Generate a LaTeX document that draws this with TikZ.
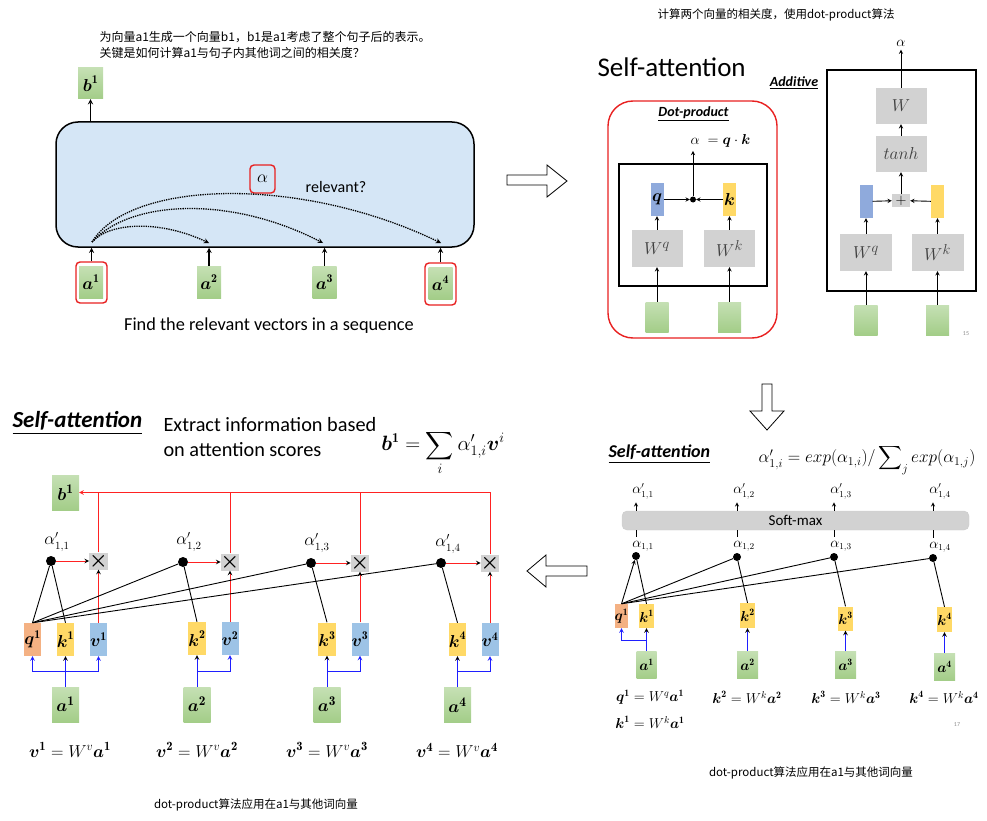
\documentclass[tikz,border=0pt]{standalone}
\usepackage{amsmath}
\usepackage{amssymb}
\usepackage{fontspec}
\usepackage{tikz}
\usetikzlibrary{positioning, calc}
\newfontfamily\calibri{Carlito}
\newfontfamily\cjk{Noto Sans CJK SC}
\definecolor{greentop}{HTML}{C5E0B4}
\definecolor{greenbot}{HTML}{A3CD88}
\definecolor{vblue}{HTML}{9DC3E6}
\definecolor{qblue}{HTML}{8FAADC}
\definecolor{kyellow}{HTML}{FFD966}
\definecolor{qsalmon}{HTML}{F4B183}
\definecolor{wgray}{HTML}{D2D2D2}
\definecolor{encblue}{HTML}{D5E6F6}
\definecolor{framered}{HTML}{E82020}
\definecolor{linered}{HTML}{FF2222}
\definecolor{lineblue}{HTML}{1F1FFF}
\begin{document}
\begin{tikzpicture}[x=1pt, y=-1pt, >=stealth,
  green box/.style={rectangle, top color=greentop, bottom color=greenbot, inner sep=0pt},
  blue box/.style={rectangle, fill=vblue, inner sep=0pt},
  q box/.style={rectangle, fill=qblue, inner sep=0pt},
  yellow box/.style={rectangle, fill=kyellow, inner sep=0pt},
  salmon box/.style={rectangle, fill=qsalmon, inner sep=0pt},
  gray box/.style={rectangle, fill=wgray, inner sep=0pt, text=black!75, font=\fontsize{19}{19}\selectfont},
  red frame/.style={rectangle, draw=framered, line width=1.4pt, rounded corners=4pt, inner sep=0pt},
  black frame/.style={rectangle, draw=black, line width=1.5pt, inner sep=0pt},
  dot/.style={circle, fill=black, inner sep=0pt},
  heading/.style={font=\calibri\bfseries\itshape},
  cjk note/.style={font=\cjk\fontsize{11.5}{16}\selectfont},
  page num/.style={font=\calibri\fontsize{6}{6}\selectfont, text=black!45},
  hollow arrow/.style={draw=black, line width=0.8pt, fill=white},
  link/.style={draw, line width=0.9pt},
  link arrow/.style={->, draw, line width=0.9pt},
  red link/.style={->, draw=linered, line width=1pt},
  blue link/.style={->, draw=lineblue, line width=1pt},
  dot link/.style={->, densely dotted, line width=1.3pt}]

\useasboundingbox (0,0) rectangle (987,821);

% ---------------- top left: relevant vectors
\node[cjk note, font=\cjk\fontsize{12}{16}\selectfont, anchor=west, align=left] (tnote) at (96,45) {为向量a1生成一个向量b1，b1是a1考虑了整个句子后的表示。\\关键是如何计算a1与句子内其他词之间的相关度？};

\node[rectangle, draw, line width=1.5pt, rounded corners=22pt, fill=encblue,
  minimum width=418pt, minimum height=125pt] (enc) at (265,184.5) {};

\node[green box, minimum width=25pt, minimum height=31pt, font=\fontsize{17}{17}\selectfont] (tb1) at (90.5,83.5) {$\boldsymbol{b}^{\mathbf{1}}$};
\node[green box, minimum width=24pt, minimum height=32pt, font=\fontsize{17}{17}\selectfont] (ta1) at (91,282) {$\boldsymbol{a}^{\mathbf{1}}$};
\node[green box, minimum width=24pt, minimum height=32pt, font=\fontsize{17}{17}\selectfont] (ta2) at (209,282) {$\boldsymbol{a}^{\mathbf{2}}$};
\node[green box, minimum width=24pt, minimum height=32pt, font=\fontsize{17}{17}\selectfont] (ta3) at (324.5,282) {$\boldsymbol{a}^{\mathbf{3}}$};
\node[green box, minimum width=24pt, minimum height=32pt, font=\fontsize{17}{17}\selectfont] (ta4) at (440.5,283) {$\boldsymbol{a}^{\mathbf{4}}$};
\node[red frame, minimum width=31pt, minimum height=41pt] (fa1) at (91.5,282.5) {};
\node[red frame, minimum width=31pt, minimum height=42pt] (fa4) at (440.5,284) {};

\draw[link arrow, line width=1.3pt] (enc.north -| tb1) -- (tb1.south);
\draw[link arrow, line width=1.3pt] (fa1.north) -- (fa1.north |- enc.south);
\draw[link arrow, line width=1.3pt] (ta2.north) -- (ta2.north |- enc.south);
\draw[link arrow, line width=1.3pt] (ta3.north) -- (ta3.north |- enc.south);
\draw[link arrow, line width=1.3pt] (fa4.north) -- (fa4.north |- enc.south);

\node[red frame, minimum width=25pt, minimum height=28pt, font=\fontsize{18}{18}\selectfont] (talpha) at (262.5,179) {$\alpha$};
\node[font=\calibri\fontsize{16}{16}\selectfont] (trel) at (336,187) {relevant?};

\coordinate (ts) at (92,242);
\coordinate (te2) at (209,243);
\coordinate (te3) at (323,243);
\coordinate (te4) at (441,243);
\draw[dot link] (ts) .. controls (110,222) and (160,220) .. (te2);
\draw[dot link] (ts) .. controls (130,200) and (230,195) .. (te3);
\draw[dot link] (ts) .. controls (130,180) and (300,175) .. (te4);

\node[font=\calibri\fontsize{18.3}{18.3}\selectfont] (tfind) at (269,326) {Find the relevant vectors in a sequence};

% arrow to the right
\draw[hollow arrow] (507,175) -- (547,175) -- (547,165) -- (567,181) -- (547,197) -- (547,185) -- (507,185) -- cycle;

% ---------------- top right: dot-product and additive
\node[cjk note] (rnote1) at (776,15) {计算两个向量的相关度，使用dot-product算法};
\node[anchor=west, font=\calibri\fontsize{27}{27}\selectfont] (ttitle) at (594,67) {Self-attention};

\node[red frame, rounded corners=25pt, minimum width=169pt, minimum height=237pt] (dframe) at (692.5,219.5) {};
\node[heading, font=\calibri\bfseries\itshape\fontsize{14}{14}\selectfont] (tdot) at (693.5,114) {\underline{Dot-product}};
\node[anchor=west, font=\fontsize{15}{15}\selectfont] (dal) at (687,141) {$\alpha\;=\boldsymbol{q}\cdot\boldsymbol{k}$};
\node[black frame, minimum width=148pt, minimum height=122pt] (dbox) at (693,225) {};

\node[q box, minimum width=13pt, minimum height=33pt, font=\fontsize{17}{17}\selectfont] (dq) at (657,199.5) {$\boldsymbol{q}$};
\node[yellow box, minimum width=13pt, minimum height=33pt, font=\fontsize{17}{17}\selectfont] (dk) at (729.5,199.5) {$\boldsymbol{k}$};
\node[dot, minimum size=6pt] (ddot) at (693,199.5) {};
\node[gray box, minimum width=51pt, minimum height=37pt] (dWq) at (657,248.5) {$W^q$};
\node[gray box, minimum width=51pt, minimum height=37pt] (dWk) at (729.5,248.5) {$W^k$};
\node[green box, minimum width=23pt, minimum height=30pt] (dg1) at (657,317) {};
\node[green box, minimum width=23pt, minimum height=30pt] (dg2) at (729.5,317) {};

\path[link arrow]
(dg1) edge (dWq)
(dWq) edge (dq)
(dg2) edge (dWk)
(dWk) edge (dk)
(dq) edge (ddot)
(dk) edge (ddot)
(ddot) edge (ddot |- dal.south)
;

\node[heading, font=\calibri\bfseries\itshape\fontsize{14}{14}\selectfont] (tadd) at (794,83) {\underline{Additive}};
\node[black frame, minimum width=149pt, minimum height=221pt] (abox) at (901.5,180.5) {};
\node[font=\fontsize{15}{15}\selectfont] (aal) at (901,43) {$\alpha$};
\node[gray box, minimum width=51pt, minimum height=36pt] (aW) at (901,106) {$W$};
\node[gray box, minimum width=51pt, minimum height=36pt] (atanh) at (901,154) {$tanh$};
\node[gray box, minimum width=18pt, minimum height=13pt, text=black, font=\fontsize{15}{15}\selectfont] (aplus) at (901,200.5) {$+$};
\node[q box, minimum width=13pt, minimum height=33pt] (ablue) at (866,201.5) {};
\node[yellow box, minimum width=13pt, minimum height=33pt] (ayel) at (937.5,201.5) {};
\node[gray box, minimum width=52pt, minimum height=37pt] (aWq) at (866,252.5) {$W^q$};
\node[gray box, minimum width=52pt, minimum height=37pt] (aWk) at (937.5,252.5) {$W^k$};
\node[green box, minimum width=23pt, minimum height=30pt] (ag1) at (866,320) {};
\node[green box, minimum width=23pt, minimum height=30pt] (ag2) at (937.5,320) {};
\node[page num] (tpg1) at (966,334) {15};

\path[link arrow]
(ag1) edge (aWq)
(aWq) edge (ablue)
(ag2) edge (aWk)
(aWk) edge (ayel)
(ablue) edge (aplus)
(ayel) edge (aplus)
(aplus) edge (atanh)
(atanh) edge (aW)
(aW) edge (aal)
;

% arrow down
\draw[hollow arrow] (762,384) -- (772,384) -- (772,411) -- (784,411) -- (767,430) -- (750,411) -- (762,411) -- cycle;

% ---------------- bottom right: soft-max
\node[heading, anchor=west, font=\calibri\bfseries\itshape\fontsize{18}{18}\selectfont] (rtitle) at (605,454) {\underline{Self-attention}};
\node[font=\fontsize{16.5}{16.5}\selectfont] (rform) at (867,460) {$\alpha'_{1,i}=exp(\alpha_{1,i})/\displaystyle\sum\nolimits_j exp(\alpha_{1,j})$};

\node[rectangle, rounded corners=5pt, fill=wgray, draw=black!20, minimum width=347pt, minimum height=19pt,
  font=\calibri\fontsize{15}{15}\selectfont] (rsm) at (795.5,520.5) {Soft-max};

\node[dot, minimum size=8pt] (rd1) at (636,556) {};
\node[dot, minimum size=8pt] (rd2) at (737,557) {};
\node[dot, minimum size=8pt] (rd3) at (834,557) {};
\node[dot, minimum size=8pt] (rd4) at (933,558) {};

\node[font=\fontsize{13.5}{13.5}\selectfont] (rp1) at (643,491) {$\alpha'_{1,1}$};
\node[font=\fontsize{13.5}{13.5}\selectfont] (rp2) at (744,491) {$\alpha'_{1,2}$};
\node[font=\fontsize{13.5}{13.5}\selectfont] (rp3) at (841,491) {$\alpha'_{1,3}$};
\node[font=\fontsize{13.5}{13.5}\selectfont] (rp4) at (940,491) {$\alpha'_{1,4}$};
\node[font=\fontsize{13.5}{13.5}\selectfont] (rl1) at (643,546) {$\alpha_{1,1}$};
\node[font=\fontsize{13.5}{13.5}\selectfont] (rl2) at (744,546) {$\alpha_{1,2}$};
\node[font=\fontsize{13.5}{13.5}\selectfont] (rl3) at (841,546) {$\alpha_{1,3}$};
\node[font=\fontsize{13.5}{13.5}\selectfont] (rl4) at (940,547) {$\alpha_{1,4}$};

\draw[link arrow] (rsm.north -| rd1) -- (rd1 |- rp1.south);
\draw[link arrow] (rsm.north -| rd2) -- (rd2 |- rp2.south);
\draw[link arrow] (rsm.north -| rd3) -- (rd3 |- rp3.south);
\draw[link arrow] (rsm.north -| rd4) -- (rd4 |- rp4.south);
\draw[link] (rsm.south -| rd1) -- (rd1 |- rl1.north);
\draw[link] (rsm.south -| rd2) -- (rd2 |- rl2.north);
\draw[link] (rsm.south -| rd3) -- (rd3 |- rl3.north);
\draw[link] (rsm.south -| rd4) -- (rd4 |- rl4.north);

\node[salmon box, minimum width=13pt, minimum height=24pt, font=\fontsize{14}{14}\selectfont] (rq1) at (621.5,616) {$\boldsymbol{q}^{\mathbf 1}$};
\node[yellow box, minimum width=13pt, minimum height=24pt, font=\fontsize{14}{14}\selectfont] (rk1) at (646.5,616) {$\boldsymbol{k}^{\mathbf 1}$};
\node[yellow box, minimum width=13pt, minimum height=25pt, font=\fontsize{14}{14}\selectfont] (rk2) at (747.5,615.5) {$\boldsymbol{k}^{\mathbf 2}$};
\node[yellow box, minimum width=13pt, minimum height=24pt, font=\fontsize{14}{14}\selectfont] (rk3) at (845.5,618.5) {$\boldsymbol{k}^{\mathbf 3}$};
\node[yellow box, minimum width=13pt, minimum height=25pt, font=\fontsize{14}{14}\selectfont] (rk4) at (944.5,619.5) {$\boldsymbol{k}^{\mathbf 4}$};
\node[green box, minimum width=20pt, minimum height=27pt, font=\fontsize{14}{14}\selectfont] (ra1) at (646.5,664.5) {$\boldsymbol{a}^{\mathbf 1}$};
\node[green box, minimum width=21pt, minimum height=27pt, font=\fontsize{14}{14}\selectfont] (ra2) at (747.5,664.5) {$\boldsymbol{a}^{\mathbf 2}$};
\node[green box, minimum width=21pt, minimum height=27pt, font=\fontsize{14}{14}\selectfont] (ra3) at (845.5,665) {$\boldsymbol{a}^{\mathbf 3}$};
\node[green box, minimum width=21pt, minimum height=27pt, font=\fontsize{14}{14}\selectfont] (ra4) at (944.5,666.5) {$\boldsymbol{a}^{\mathbf 4}$};

\coordinate (rj1) at ($(ra1.north)!0.45!(rk1.south)$);
\path[blue link]
(ra1) edge (rk1)
(ra2) edge (rk2)
(ra3) edge (rk3)
(ra4) edge (rk4)
;
\draw[blue link] (rj1) -| (rq1);

\draw[link arrow] (rq1.north) -- (rd1);
\draw[link] (rq1.north) -- (rd2);
\draw[link] (rq1.north) -- (rd3);
\draw[link] (rq1.north) -- (rd4);
\draw[link] (rk1.north) -- (rd1);
\draw[link] (rk2.north) -- (rd2);
\draw[link] (rk3.north) -- (rd3);
\draw[link] (rk4.north) -- (rd4);

\node[font=\fontsize{14}{14}\selectfont] (re1) at (650,697) {$\boldsymbol{q}^{\mathbf 1}=W^q\boldsymbol{a}^{\mathbf 1}$};
\node[font=\fontsize{14}{14}\selectfont] (re1b) at (650,722) {$\boldsymbol{k}^{\mathbf 1}=W^k\boldsymbol{a}^{\mathbf 1}$};
\node[font=\fontsize{14}{14}\selectfont] (re2) at (747,697) {$\boldsymbol{k}^{\mathbf 2}=W^k\boldsymbol{a}^{\mathbf 2}$};
\node[font=\fontsize{14}{14}\selectfont] (re3) at (846,697) {$\boldsymbol{k}^{\mathbf 3}=W^k\boldsymbol{a}^{\mathbf 3}$};
\node[font=\fontsize{14}{14}\selectfont] (re4) at (944,697) {$\boldsymbol{k}^{\mathbf 4}=W^k\boldsymbol{a}^{\mathbf 4}$};
\node[page num] (tpg2) at (957,725) {17};
\node[cjk note] (rnote2) at (811,773) {dot-product算法应用在a1与其他词向量};

% arrow to the left
\draw[hollow arrow] (527,571) -- (546,555) -- (546,566) -- (587,566) -- (587,576) -- (546,576) -- (546,587) -- cycle;

% ---------------- bottom left: weighted sum
\node[heading, anchor=west, font=\calibri\bfseries\itshape\fontsize{23}{23}\selectfont] (btitle) at (9,423) {\underline{Self-attention}};
\node[anchor=west, align=left, font=\calibri\fontsize{20.3}{25}\selectfont] (bext) at (160,437) {Extract information based\\on attention scores};
\node[font=\fontsize{19.5}{19.5}\selectfont] (bform) at (443,453) {$\boldsymbol{b}^{\mathbf 1}=\displaystyle\sum_i\alpha'_{1,i}\boldsymbol{v}^{i}$};

\node[green box, minimum width=27pt, minimum height=35pt, font=\fontsize{19}{19}\selectfont] (bb1) at (65.5,492.5) {$\boldsymbol{b}^{\mathbf 1}$};

\node[dot, minimum size=10pt] (bd1) at (51,561) {};
\node[dot, minimum size=10pt] (bd2) at (183,562) {};
\node[dot, minimum size=10pt] (bd3) at (311,563) {};
\node[dot, minimum size=10pt] (bd4) at (441,563) {};
\node[font=\fontsize{16}{16}\selectfont] (bl1) at (57,542) {$\alpha'_{1,1}$};
\node[font=\fontsize{16}{16}\selectfont] (bl2) at (189,542) {$\alpha'_{1,2}$};
\node[font=\fontsize{16}{16}\selectfont] (bl3) at (317,543) {$\alpha'_{1,3}$};
\node[font=\fontsize{16}{16}\selectfont] (bl4) at (448,544) {$\alpha'_{1,4}$};

\node[gray box, minimum size=17pt, text=black, font=\fontsize{22}{22}\selectfont] (bx1) at (98.5,561) {$\boldsymbol{\times}$};
\node[gray box, minimum size=17pt, text=black, font=\fontsize{22}{22}\selectfont] (bx2) at (230,562) {$\boldsymbol{\times}$};
\node[gray box, minimum size=17pt, text=black, font=\fontsize{22}{22}\selectfont] (bx3) at (360,563) {$\boldsymbol{\times}$};
\node[gray box, minimum size=17pt, text=black, font=\fontsize{22}{22}\selectfont] (bx4) at (490,563) {$\boldsymbol{\times}$};

\node[salmon box, minimum width=17pt, minimum height=33pt, font=\fontsize{17}{17}\selectfont] (bq1) at (32.5,639.5) {$\boldsymbol{q}^{\mathbf 1}$};
\node[yellow box, minimum width=17pt, minimum height=33pt, font=\fontsize{17}{17}\selectfont] (bk1) at (65.5,639.5) {$\boldsymbol{k}^{\mathbf 1}$};
\node[blue box, minimum width=17pt, minimum height=33pt, font=\fontsize{17}{17}\selectfont] (bv1) at (98.5,639.5) {$\boldsymbol{v}^{\mathbf 1}$};
\node[yellow box, minimum width=17pt, minimum height=33pt, font=\fontsize{17}{17}\selectfont] (bk2) at (197,638.5) {$\boldsymbol{k}^{\mathbf 2}$};
\node[blue box, minimum width=17pt, minimum height=33pt, font=\fontsize{17}{17}\selectfont] (bv2) at (230,638.5) {$\boldsymbol{v}^{\mathbf 2}$};
\node[yellow box, minimum width=17pt, minimum height=33pt, font=\fontsize{17}{17}\selectfont] (bk3) at (327,639) {$\boldsymbol{k}^{\mathbf 3}$};
\node[blue box, minimum width=17pt, minimum height=33pt, font=\fontsize{17}{17}\selectfont] (bv3) at (360,639) {$\boldsymbol{v}^{\mathbf 3}$};
\node[yellow box, minimum width=17pt, minimum height=33pt, font=\fontsize{17}{17}\selectfont] (bk4) at (457.5,639.5) {$\boldsymbol{k}^{\mathbf 4}$};
\node[blue box, minimum width=17pt, minimum height=33pt, font=\fontsize{17}{17}\selectfont] (bv4) at (490,639.5) {$\boldsymbol{v}^{\mathbf 4}$};

\node[green box, minimum width=27pt, minimum height=35pt, font=\fontsize{19}{19}\selectfont] (ba1) at (65.5,704.5) {$\boldsymbol{a}^{\mathbf 1}$};
\node[green box, minimum width=27pt, minimum height=35pt, font=\fontsize{19}{19}\selectfont] (ba2) at (197,704.5) {$\boldsymbol{a}^{\mathbf 2}$};
\node[green box, minimum width=27pt, minimum height=35pt, font=\fontsize{19}{19}\selectfont] (ba3) at (327,704.5) {$\boldsymbol{a}^{\mathbf 3}$};
\node[green box, minimum width=27pt, minimum height=35pt, font=\fontsize{19}{19}\selectfont] (ba4) at (457.5,705) {$\boldsymbol{a}^{\mathbf 4}$};

% red: weights times values, summed into b1
\path[red link]
(bd1) edge (bx1)
(bd2) edge (bx2)
(bd3) edge (bx3)
(bd4) edge (bx4)
(bv1) edge (bx1)
(bv2) edge (bx2)
(bv3) edge (bx3)
(bv4) edge (bx4)
;
\draw[red link, -] (bx1) -- (bx1 |- bb1);
\draw[red link, -] (bx2) -- (bx2 |- bb1);
\draw[red link, -] (bx3) -- (bx3 |- bb1);
\draw[red link] (bx4) |- (bb1);

% black: q1 with every k
\draw[link] (bq1.north) -- (bd1);
\draw[link] (bq1.north) -- (bd2);
\draw[link] (bq1.north) -- (bd3);
\draw[link] (bq1.north) -- (bd4);
\draw[link] (bk1.north) -- (bd1);
\draw[link] (bk2.north) -- (bd2);
\draw[link] (bk3.north) -- (bd3);
\draw[link] (bk4.north) -- (bd4);

% blue: a gives q, k, v
\coordinate (bj1) at ($(ba1.north)!0.5!(bk1.south)$);
\coordinate (bj2) at ($(ba2.north)!0.5!(bk2.south)$);
\coordinate (bj3) at ($(ba3.north)!0.5!(bk3.south)$);
\coordinate (bj4) at ($(ba4.north)!0.5!(bk4.south)$);
\path[blue link]
(ba1) edge (bk1)
(ba2) edge (bk2)
(ba3) edge (bk3)
(ba4) edge (bk4)
;
\draw[blue link] (bj1) -| (bq1);
\draw[blue link] (bj1) -| (bv1);
\draw[blue link] (bj2) -| (bv2);
\draw[blue link] (bj3) -| (bv3);
\draw[blue link] (bj4) -| (bv4);

\node[font=\fontsize{18}{18}\selectfont] (be1) at (70,750) {$\boldsymbol{v}^{\mathbf 1}=W^v\boldsymbol{a}^{\mathbf 1}$};
\node[font=\fontsize{18}{18}\selectfont] (be2) at (197,750) {$\boldsymbol{v}^{\mathbf 2}=W^v\boldsymbol{a}^{\mathbf 2}$};
\node[font=\fontsize{18}{18}\selectfont] (be3) at (327,750) {$\boldsymbol{v}^{\mathbf 3}=W^v\boldsymbol{a}^{\mathbf 3}$};
\node[font=\fontsize{18}{18}\selectfont] (be4) at (457,750) {$\boldsymbol{v}^{\mathbf 4}=W^v\boldsymbol{a}^{\mathbf 4}$};
\node[cjk note] (bnote) at (256,805) {dot-product算法应用在a1与其他词向量};

\end{tikzpicture}
\end{document}
